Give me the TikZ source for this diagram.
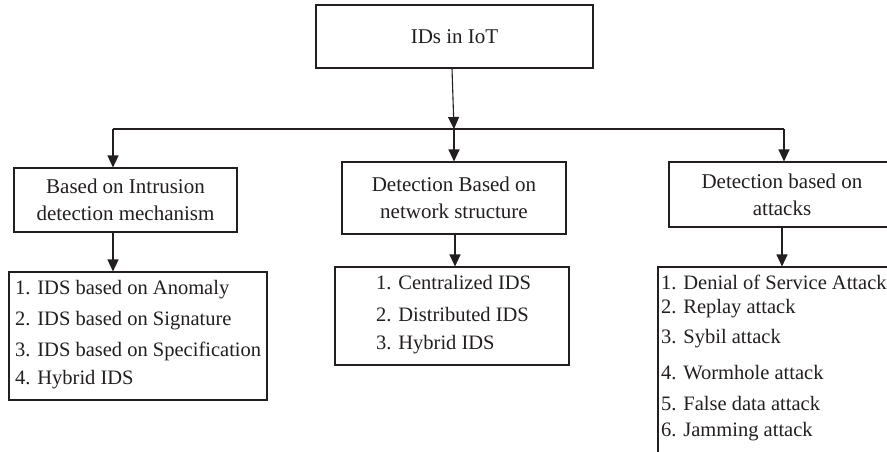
\documentclass[tikz,border=0pt]{standalone}
\usepackage{fontspec}
\setmainfont{Liberation Serif}
\usetikzlibrary{arrows.meta}
\definecolor{ink}{HTML}{231F20}
\tikzset{
  box/.style={draw=ink, line width=1.1pt, inner sep=0pt, text=ink,
    font=\fontsize{21}{27}\selectfont, align=center},
  item/.style={inner sep=0pt, text=ink, font=\fontsize{20.5}{25}\selectfont, anchor=west},
  link/.style={draw=ink, line width=1.1pt},
  arr/.style={link, -{Triangle[length=12pt,width=11pt]}}
}
\begin{document}
\begin{tikzpicture}[x=1pt,y=-1pt]
\useasboundingbox (0,0) rectangle (887,451);
\clip (0,0) rectangle (887,451);
\fill[white] (0,0) rectangle (887,451);

% root and second level
\node[box, minimum width=277pt, minimum height=63pt] (root) at (454.5,36.5) {IDs in IoT};
\node[box, minimum width=223pt, minimum height=64pt] (m1) at (125.5,200) {Based on Intrusion\\detection mechanism};
\node[box, minimum width=224pt, minimum height=72pt] (m2) at (454,198) {Detection Based on\\network structure};
\node[box, minimum width=226pt, minimum height=65pt] (m3) at (782,194.5) {Detection based on\\attacks};

% lists
\node[box, minimum width=258pt, minimum height=128pt] (l1) at (138,336) {};
\node[box, minimum width=234pt, minimum height=98pt] (l2) at (452,316) {};
\node[box, minimum width=250pt, minimum height=200pt] (l3) at (783,367) {};

\node[item] (a1) at (15,290) {1. IDS based on Anomaly};
\node[item] (a2) at (15,321) {2. IDS based on Signature};
\node[item] (a3) at (15,351) {3. IDS based on Specification};
\node[item] (a4) at (15,380) {4. Hybrid IDS};

\node[item] (b1) at (376,283) {1. Centralized IDS};
\node[item] (b2) at (376,315) {2. Distributed IDS};
\node[item] (b3) at (376,345) {3. Hybrid IDS};

\node[item] (c1) at (661,282) {1. Denial of Service Attack};
\node[item] (c2) at (661,309) {2. Replay attack};
\node[item] (c3) at (661,339) {3. Sybil attack};
\node[item] (c4) at (661,373) {4. Wormhole attack};
\node[item] (c5) at (661,404) {5. False data attack};
\node[item] (c6) at (661,432) {6. Jamming attack};

% branching bus
\coordinate (busL) at (113,129);
\coordinate (busM) at (454,129);
\coordinate (busR) at (784,129);
\draw[link] (busL) -- (busR);
\draw[arr] ([xshift=-2.5pt]root.south) -- (busM);
\draw[arr] (busL) -- (busL |- m1.north);
\draw[arr] (busM) -- (busM |- m2.north);
\draw[arr] (busR) -- (busR |- m3.north);

% second level to lists
\draw[arr] (m1.south -| busL) -- (busL |- l1.north);
\draw[arr] ([xshift=1pt]m2.south) -- ([xshift=1pt]m2.south |- l2.north);
\draw[arr] (m3.south) -- (m3.south |- l3.north);
\end{tikzpicture}
\end{document}
